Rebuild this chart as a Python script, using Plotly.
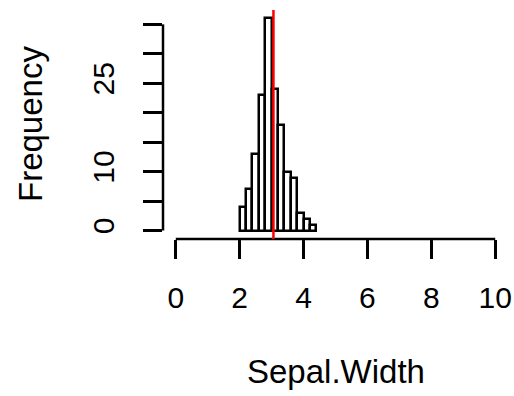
import plotly.graph_objects as go

# iris Sepal.Width histogram, breaks of 0.2
breaks = [2.0, 2.2, 2.4, 2.6, 2.8, 3.0, 3.2, 3.4, 3.6, 3.8, 4.0, 4.2, 4.4]
counts = [4, 7, 13, 23, 36, 24, 18, 10, 9, 3, 2, 1]
mean_width = 3.057333

x_ticks = [0, 2, 4, 6, 8, 10]
y_ticks = [0, 5, 10, 15, 20, 25, 30, 35]
y_ticktext = ["0", "", "10", "", "", "25", "", ""]

centers = [(a + b) / 2 for a, b in zip(breaks[:-1], breaks[1:])]
widths = [b - a for a, b in zip(breaks[:-1], breaks[1:])]

FONT = "Liberation Sans, Arial, sans-serif"
FS = 30
FS_LAB = 33
LW = 2.5

fig = go.Figure()
fig.add_trace(
    go.Bar(
        x=centers,
        y=counts,
        width=widths,
        marker={"color": "white", "line": {"color": "black", "width": 2.5}},
        showlegend=False,
        hoverinfo="skip",
    )
)

# R-style axis lines: only from first to last tick
fig.add_shape(type="line", xref="x", yref="paper", x0=x_ticks[0], x1=x_ticks[-1], y0=0, y1=0,
              line={"color": "black", "width": LW})
fig.add_shape(type="line", xref="paper", yref="y", x0=0, x1=0, y0=y_ticks[0], y1=y_ticks[-1],
              line={"color": "black", "width": LW})
# mean line
fig.add_shape(type="line", xref="x", yref="paper", x0=mean_width, x1=mean_width, y0=0, y1=1,
              line={"color": "red", "width": 2.5})

# axis titles
fig.add_annotation(text="Sepal.Width", xref="paper", yref="paper", x=0.5, y=0,
                   yshift=-153, showarrow=False, font={"size": FS_LAB})
fig.add_annotation(text="Frequency", xref="paper", yref="paper", x=0, y=0.5,
                   xshift=-153, textangle=-90, showarrow=False, font={"size": FS_LAB})

fig.update_layout(
    width=514,
    height=396,
    paper_bgcolor="white",
    plot_bgcolor="white",
    margin={"l": 163, "r": 6, "t": 10, "b": 157},
    font={"family": FONT, "size": FS, "color": "black"},
    bargap=0,
)
fig.update_xaxes(
    range=[-0.4, 10.4],
    tickvals=x_ticks,
    ticks="outside",
    ticklen=19,
    tickwidth=LW,
    tickcolor="black",
    tickfont={"size": FS},
    ticklabelstandoff=13,
    showgrid=False,
    zeroline=False,
    showline=False,
    automargin=False,
)
fig.update_yaxes(
    range=[-1.44, 37.44],
    tickvals=y_ticks,
    ticktext=y_ticktext,
    tickangle=-90,
    ticks="outside",
    ticklen=19,
    tickwidth=LW,
    tickcolor="black",
    tickfont={"size": FS},
    ticklabelstandoff=17,
    showgrid=False,
    zeroline=False,
    showline=False,
    automargin=False,
)

# drop the page's default body margin so the figure fills the window
fig.write_html(
    "out.html",
    config={"displayModeBar": False},
    post_script="document.body.style.margin='0';document.body.style.overflow='hidden';",
)
